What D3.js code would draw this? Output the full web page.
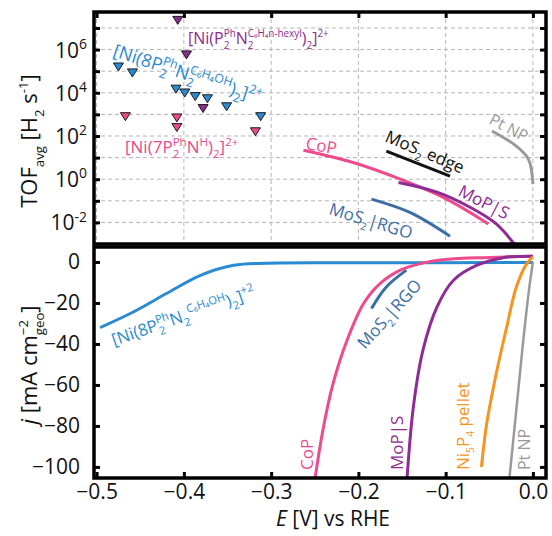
<!DOCTYPE html>
<html>
<head>
<meta charset="utf-8">
<script src="https://cdn.jsdelivr.net/npm/d3@7"></script>
<style>
  body { margin: 0; background: #fff; }
  svg { font-family: "Open Sans", sans-serif; }
  text { white-space: pre; }
</style>
</head>
<body>
<svg id="chart" width="552" height="536"></svg>
<script>
// ---- data ----
const xTicks = [-0.5, -0.4, -0.3, -0.2, -0.1, 0.0];
const tofDecades = [-3, -2, -1, 0, 1, 2, 3, 4, 5, 6, 7];
const tofLabelExp = [-2, 0, 2, 4, 6];
const jTicks = [0, -20, -40, -60, -80, -100];

// molecular catalysts (TOF markers)
const ni8E = [-0.475, -0.459, -0.409, -0.399, -0.387, -0.373, -0.351, -0.312];
const ni8Tof = [1.6e5, 8.5e4, 1.5e4, 1.0e4, 6.8e3, 5.4e3, 2.3e3, 8.0e2];
const hexylE = [-0.407, -0.397, -0.378];
const hexylTof = [2.3e7, 5.8e5, 1.9e3];
const ni7E = [-0.467, -0.408, -0.408, -0.318];
const ni7Tof = [8.0e2, 7.0e2, 2.5e2, 1.6e2];

// solid catalysts (TOF curves)
const copTofE = [-0.263, -0.206, -0.152, -0.099, -0.051];
const copTof = [22, 5.9, 1.0, 0.12, 0.0085];
const mopsTofE = [-0.154, -0.110, -0.072, -0.042, -0.023, -0.018];
const mopsTof = [0.7, 0.25, 0.05, 0.0085, 0.0012, 0.0006];
const mosEdgeE = [-0.168, -0.095];
const mosEdgeTof = [20, 1.4];
const mosRgoTofE = [-0.185, -0.141, -0.095];
const mosRgoTof = [0.12, 0.029, 0.0023];
const ptTofE = [-0.047, -0.019, -0.005, 0.0];
const ptTof = [170, 34, 8.3, 0.59];

// polarisation curves (j vs E)
const ni8JE = [-0.496, -0.458, -0.420, -0.381, -0.343, -0.305, -0.2, 0.0];
const ni8J = [-32, -24.4, -15.4, -6.5, -1.6, -0.6, -0.4, -0.3];
const copJE = [-0.252, -0.240, -0.229, -0.213, -0.194, -0.175, -0.152, -0.129, -0.1, -0.05, 0.0];
const copJ = [-112, -80.5, -59.3, -38.2, -20.3, -10.5, -4.0, -0.8, 1.2, 2.2, 2.8];
const mosRgoJE = [-0.185, -0.168, -0.145];
const mosRgoJ = [-22.7, -12.2, -4];
const mopsJE = [-0.145, -0.137, -0.126, -0.110, -0.091, -0.064, -0.034, 0.0];
const mopsJ = [-110, -70.7, -43, -22, -8.9, -1.6, 2.1, 2.8];
const ni5p4JE = [-0.059, -0.053, -0.042, -0.030, -0.019, -0.007, 0.0];
const ni5p4J = [-100, -79, -54.4, -31.7, -12.2, -0.8, 2.5];
const ptJE = [-0.028, -0.019, -0.011, -0.004, 0.0];
const ptJ = [-110, -72, -38, -12, 0];

const colors = {
  ni8: "#2a8ad2",
  hexyl: "#8e2b8f",
  ni7: "#ea4a8a",
  cop: "#ee4a8c",
  mops: "#8e2b94",
  mosEdge: "#111111",
  mosRgo: "#3c6ea6",
  pt: "#9a9a9a",
  ni5p4: "#f7941d"
};

// ---- layout ----
const svg = d3.select("#chart");
const left = 94, right = 546;
const topPanel = { top: 12, bottom: 244 };
const botPanel = { top: 247, bottom: 478 };

const x = d3.scaleLinear().domain([-0.503, 0.015]).range([left, right]);
const yTof = d3.scaleLog().domain([1e-3, Math.pow(10, 7.74)]).range([topPanel.bottom, topPanel.top]);
const yJ = d3.scaleLinear().domain([-105.4, 7.3]).range([botPanel.bottom, botPanel.top]);

// text with sub/superscripts, laid out by measuring each piece
function richText(parent, px, py, angle, parts, opt) {
  const size = opt.size, color = opt.color || "#111";
  const outer = parent.append("g").attr("transform", `translate(${px},${py}) rotate(${angle})`);
  const g = outer.append("g");
  let cx = 0;
  const add = (txt, ax, ay, fs, italic) => {
    const t = g.append("text")
      .attr("x", ax).attr("y", ay)
      .attr("font-size", fs)
      .attr("fill", color)
      .text(txt);
    if (italic) t.attr("font-style", "italic");
    return t.node().getComputedTextLength();
  };
  parts.forEach(p => {
    if (typeof p === "string") cx += add(p, cx, 0, size);
    else if (p.i) cx += add(p.i, cx, 0, size, true);
    else {
      const ss = size * (opt.scr || 0.6);
      let w = 0;
      if (p.sup) w = Math.max(w, add(p.sup, cx, -size * 0.42, ss));
      if (p.sub) w = Math.max(w, add(p.sub, cx, size * 0.3, ss));
      cx += w;
    }
  });
  if (opt.anchor === "end") g.attr("transform", `translate(${-cx},0)`);
  if (opt.anchor === "middle") g.attr("transform", `translate(${-cx / 2},0)`);
}

// clip paths
const defs = svg.append("defs");
defs.append("clipPath").attr("id", "clip-top").append("rect")
  .attr("x", left).attr("y", topPanel.top)
  .attr("width", right - left).attr("height", topPanel.bottom - topPanel.top);
defs.append("clipPath").attr("id", "clip-bot").append("rect")
  .attr("x", left).attr("y", botPanel.top)
  .attr("width", right - left).attr("height", botPanel.bottom - botPanel.top);

// ---- top panel: grid ----
const grid = svg.append("g").attr("stroke", "#b5b5b5").attr("stroke-dasharray", "4,3").attr("stroke-width", 1);
grid.selectAll(".hg").data(tofDecades.filter(e => e > -3)).enter().append("line")
  .attr("x1", left).attr("x2", right)
  .attr("y1", d => yTof(Math.pow(10, d))).attr("y2", d => yTof(Math.pow(10, d)));
grid.selectAll(".vg").data(xTicks).enter().append("line")
  .attr("y1", topPanel.top).attr("y2", topPanel.bottom)
  .attr("x1", d => x(d)).attr("x2", d => x(d));

// ---- top panel: curves ----
const topLayer = svg.append("g").attr("clip-path", "url(#clip-top)");
const lineTof = d3.line().x(d => x(d[0])).y(d => yTof(d[1])).curve(d3.curveCatmullRom);
[
  [copTofE, copTof, colors.cop],
  [mosEdgeE, mosEdgeTof, colors.mosEdge],
  [mosRgoTofE, mosRgoTof, colors.mosRgo],
  [ptTofE, ptTof, colors.pt],
  [mopsTofE, mopsTof, colors.mops]
].forEach(([es, vs, c]) => {
  topLayer.append("path")
    .attr("d", lineTof(d3.zip(es, vs)))
    .attr("fill", "none").attr("stroke", c).attr("stroke-width", 3);
});

// markers (downward triangles)
const tri = "M-5,-3.8L5,-3.8L0,4.2Z";
[
  [ni7E, ni7Tof, colors.ni7],
  [ni8E, ni8Tof, colors.ni8],
  [hexylE, hexylTof, colors.hexyl]
].forEach(([es, vs, c]) => {
  topLayer.selectAll(null).data(d3.zip(es, vs)).enter().append("path")
    .attr("d", tri)
    .attr("transform", d => `translate(${x(d[0])},${yTof(d[1])})`)
    .attr("fill", c).attr("stroke", "#1a1a1a").attr("stroke-width", 1);
});

// ---- bottom panel: curves ----
const botLayer = svg.append("g").attr("clip-path", "url(#clip-bot)");
const lineJ = d3.line().x(d => x(d[0])).y(d => yJ(d[1])).curve(d3.curveCatmullRom);
[
  [ni8JE, ni8J, colors.ni8, 3],
  [copJE, copJ, colors.cop, 3],
  [mopsJE, mopsJ, colors.mops, 3],
  [mosRgoJE, mosRgoJ, colors.mosRgo, 3],
  [ni5p4JE, ni5p4J, colors.ni5p4, 3],
  [ptJE, ptJ, colors.pt, 2.5]
].forEach(([es, vs, c, w]) => {
  botLayer.append("path")
    .attr("d", lineJ(d3.zip(es, vs)))
    .attr("fill", "none").attr("stroke", c).attr("stroke-width", w);
});

// ---- frames and ticks ----
[topPanel, botPanel].forEach(p => {
  svg.append("rect")
    .attr("x", left).attr("y", p.top)
    .attr("width", right - left).attr("height", p.bottom - p.top)
    .attr("fill", "none").attr("stroke", "#000").attr("stroke-width", 3.5);
});

function styleTicks(g) {
  g.select(".domain").remove();
  g.selectAll("line").attr("stroke", "#000").attr("stroke-width", 3);
}
const tofTickVals = tofDecades.filter(e => e > -3).map(e => Math.pow(10, e));
svg.append("g").attr("transform", `translate(${left},0)`)
  .call(d3.axisLeft(yTof).tickValues(tofTickVals).tickSize(-6).tickFormat(""))
  .call(styleTicks);
svg.append("g").attr("transform", `translate(${right},0)`)
  .call(d3.axisRight(yTof).tickValues(tofTickVals).tickSize(-6).tickFormat(""))
  .call(styleTicks);
svg.append("g").attr("transform", `translate(0,${topPanel.top})`)
  .call(d3.axisTop(x).tickValues(xTicks).tickSize(-6).tickFormat(""))
  .call(styleTicks);

svg.append("g").attr("transform", `translate(${left},0)`)
  .call(d3.axisLeft(yJ).tickValues(jTicks).tickSize(-6).tickPadding(14).tickFormat(d3.format("d")))
  .call(styleTicks)
  .call(g => g.selectAll("text").attr("font-size", 21).attr("fill", "#111")
    .attr("font-family", "Open Sans"));
svg.append("g").attr("transform", `translate(${right},0)`)
  .call(d3.axisRight(yJ).tickValues(jTicks).tickSize(-6).tickFormat(""))
  .call(styleTicks);
svg.append("g").attr("transform", `translate(0,${botPanel.bottom})`)
  .call(d3.axisBottom(x).tickValues(xTicks).tickSize(-6).tickPadding(6).tickFormat(d3.format(".1f")))
  .call(styleTicks)
  .call(g => g.selectAll("text").attr("font-size", 21).attr("fill", "#111")
    .attr("font-family", "Open Sans"));

// log tick labels 10^n
tofLabelExp.forEach(e => {
  richText(svg, 87, yTof(Math.pow(10, e)) + 8, 0,
    ["10", { sup: e < 0 ? "-" + Math.abs(e) : String(e) }],
    { size: 21, anchor: "end", scr: 0.66 });
});

// ---- axis titles ----
richText(svg, 37, 141, -90,
  ["TOF", { sub: "avg" }, " [H", { sub: "2" }, " s", { sup: "-1" }, "]"],
  { size: 22, anchor: "middle" });
richText(svg, 37, 365, -90,
  [{ i: "j" }, " [mA cm", { sup: "−2", sub: "geo" }, "]"],
  { size: 22, anchor: "middle" });
richText(svg, 333, 526, 0,
  [{ i: "E" }, " [V] vs RHE"],
  { size: 21, anchor: "middle" });

// ---- series labels, top panel ----
richText(svg, 188, 44, 0,
  ["[Ni(P", { sup: "Ph", sub: "2" }, "N", { sup: "C₆H₄n-hexyl", sub: "2" }, ")", { sub: "2" }, "]", { sup: "2+" }],
  { size: 16, color: colors.hexyl, scr: 0.62 });
richText(svg, 112, 56, 18,
  ["[Ni(8P", { sup: "Ph", sub: "2" }, "N", { sup: "C₆H₄OH", sub: "2" }, ")", { sub: "2" }, "]", { sup: "2+" }],
  { size: 18, color: colors.ni8, scr: 0.68 });
richText(svg, 125, 153, 0,
  ["[Ni(7P", { sup: "Ph", sub: "2" }, "N", { sup: "H" }, ")", { sub: "2" }, "]", { sup: "2+" }],
  { size: 17, color: colors.ni7, scr: 0.68 });
richText(svg, 305, 149, 10, ["CoP"], { size: 17, color: colors.cop });
richText(svg, 384, 141, 23, ["MoS", { sub: "2" }, " edge"], { size: 17, color: colors.mosEdge });
richText(svg, 457, 195, 27, ["MoP|S"], { size: 17, color: colors.mops });
richText(svg, 328, 214, 17, ["MoS", { sub: "2" }, "|RGO"], { size: 17, color: colors.mosRgo });
richText(svg, 488, 123, 28, ["Pt NP"], { size: 16, color: colors.pt });

// ---- series labels, bottom panel ----
richText(svg, 114, 346, -19,
  ["[Ni(8P", { sup: "Ph", sub: "2" }, "N", { sub: "2" }, { sup: "C₆H₄OH" }, ")", { sub: "2" }, "]", { sup: "+2" }],
  { size: 17, color: colors.ni8, scr: 0.66 });
richText(svg, 365, 350, -48, ["MoS", { sub: "2" }, "|RGO"], { size: 17, color: colors.mosRgo });
richText(svg, 313, 470, -90, ["CoP"], { size: 17, color: colors.cop });
richText(svg, 403, 470, -90, ["MoP|S"], { size: 17, color: colors.mops });
richText(svg, 469, 470, -90, ["Ni", { sub: "5" }, "P", { sub: "4" }, " pellet"], { size: 17, color: colors.ni5p4 });
richText(svg, 530, 470, -90, ["Pt NP"], { size: 16, color: colors.pt });
</script>
</body>
</html>
